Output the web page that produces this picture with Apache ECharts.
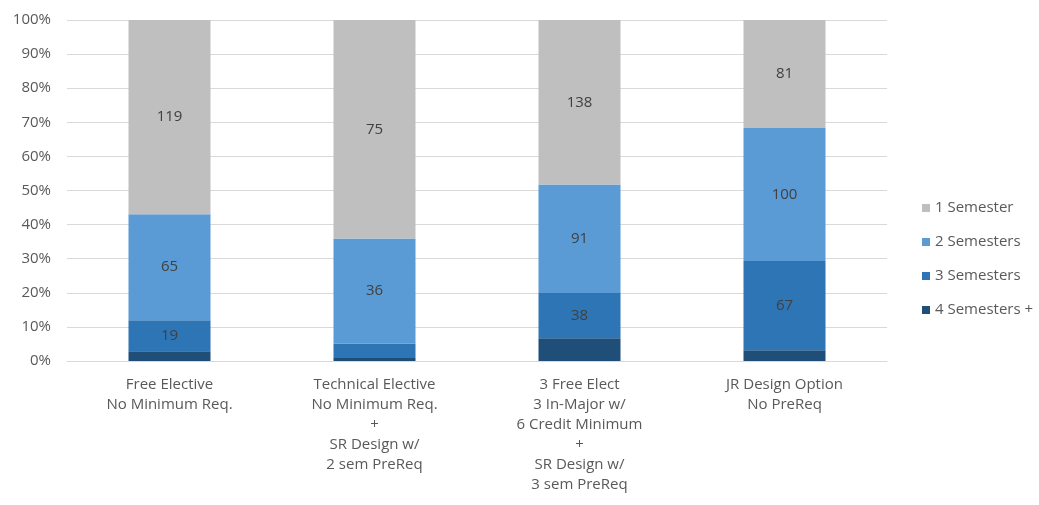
<!DOCTYPE html>
<html><head><meta charset="utf-8">
<script src="https://cdn.jsdelivr.net/npm/echarts@6/dist/echarts.min.js"></script>
<style>html,body{margin:0;padding:0;background:#fff}#c{width:1039px;height:505px}</style>
</head><body><div id="c"></div>
<script>
const categories = [
  "Free Elective\nNo Minimum Req.",
  "Technical Elective\nNo Minimum Req.\n+\nSR Design w/\n2 sem PreReq",
  "3 Free Elect\n3 In-Major w/\n6 Credit Minimum\n+\nSR Design w/\n3 sem PreReq",
  "JR Design Option\nNo PreReq"
];
const sem4 = [6, 1, 19, 8];
const sem3 = [19, 5, 38, 67];
const sem2 = [65, 36, 91, 100];
const sem1 = [119, 75, 138, 81];
const showLabel = {
  "4 Semesters +": [false, false, false, false],
  "3 Semesters": [true, false, true, true],
  "2 Semesters": [true, true, true, true],
  "1 Semester": [true, true, true, true]
};
const yTicks = [0,10,20,30,40,50,60,70,80,90,100];

const totals = categories.map((_, i) => sem1[i] + sem2[i] + sem3[i] + sem4[i]);
const font = "'Open Sans', 'Liberation Sans', sans-serif";
function mk(name, arr, color) {
  return {
    name, type: 'bar', stack: 'all', barWidth: '40%',
    itemStyle: { color },
    data: arr.map((v, i) => ({
      value: v / totals[i] * 100, count: v,
      label: { show: showLabel[name][i] }
    })),
    label: {
      position: 'inside', color: '#404040', fontSize: 15, fontFamily: font,
      formatter: p => p.data.count
    }
  };
}
const chart = echarts.init(document.getElementById('c'));
chart.setOption({
  animation: false,
  grid: { left: 67, right: 152, top: 20, bottom: 144 },
  legend: {
    orient: 'vertical', left: 917, top: 193, itemGap: 14,
    itemWidth: 8, itemHeight: 8, icon: 'rect',
    textStyle: { color: '#595959', fontSize: 15, fontFamily: font, lineHeight: 20 },
    data: ['1 Semester', '2 Semesters', '3 Semesters', '4 Semesters +']
  },
  xAxis: {
    type: 'category', data: categories,
    axisLine: { lineStyle: { color: '#d9d9d9' } },
    axisTick: { show: false },
    axisLabel: { color: '#595959', fontSize: 15, fontFamily: font, lineHeight: 20, margin: 14, interval: 0 }
  },
  yAxis: {
    type: 'value', min: 0, max: 100, interval: 10,
    axisLine: { show: false }, axisTick: { show: false },
    splitLine: { lineStyle: { color: '#d9d9d9' } },
    axisLabel: { color: '#595959', fontSize: 15, fontFamily: font, margin: 16,
      formatter: v => yTicks.includes(v) ? v + '%' : '' }
  },
  series: [
    mk('4 Semesters +', sem4, '#1f4e79'),
    mk('3 Semesters', sem3, '#2e75b6'),
    mk('2 Semesters', sem2, '#5b9bd5'),
    mk('1 Semester', sem1, '#bfbfbf')
  ]
});
</script></body></html>
